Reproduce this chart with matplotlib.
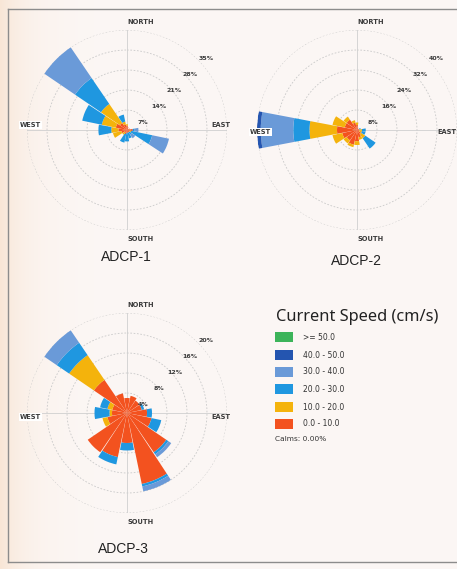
import numpy as np
import matplotlib.pyplot as plt
from matplotlib.patches import Rectangle
from matplotlib.lines import Line2D

# 16 compass sectors, clockwise from north
directions = [0, 22.5, 45, 67.5, 90, 112.5, 135, 157.5,
              180, 202.5, 225, 247.5, 270, 292.5, 315, 337.5]

speed_bins = ["0.0 - 10.0", "10.0 - 20.0", "20.0 - 30.0",
              "30.0 - 40.0", "40.0 - 50.0", ">= 50.0"]
bin_colors = ["#f3521f", "#f4b30c", "#1f97e0", "#6a9ad8", "#2455b0", "#3cb45a"]

# frequency (%) per sector for each speed class
adcp1_0_10 = [1.5, 1, 0.5, 1, 2, 1, 1, 1, 1, 1.5, 1, 2, 3, 4, 3, 2]
adcp1_10_20 = [0.5, 0, 0, 0, 0, 0.5, 0, 0, 0, 0, 1, 3, 2.5, 5, 8, 1]
adcp1_20_30 = [0, 0, 0, 0, 0.5, 7.5, 1, 2, 3, 3, 0, 0, 4.5, 7, 11, 2.5]
adcp1_30_40 = [0, 0, 0, 0, 1.5, 6, 1.5, 0, 0, 0, 0, 0, 0, 0, 14, 0]
adcp1_40_50 = [0] * 16
adcp1_50 = [0] * 16

adcp2_0_10 = [2, 1, 0.5, 1, 1, 1, 2, 3, 4.5, 6, 5, 6, 8, 5, 5, 3]
adcp2_10_20 = [1, 0, 0, 0, 1, 1, 2, 1, 1.5, 1, 1.5, 4, 11, 5, 1.5, 1]
adcp2_20_30 = [0, 0, 0, 0.5, 1.5, 1.5, 5, 0, 0, 0, 0, 0, 6.5, 0, 0, 0]
adcp2_30_40 = [0, 0, 0, 0, 0, 0, 0, 0, 0, 0, 0, 0, 13, 0, 0, 0]
adcp2_40_50 = [0, 0, 0, 0, 0, 0, 0, 0, 0, 0, 0, 0, 1.5, 0, 0, 0]
adcp2_50 = [0] * 16

adcp3_0_10 = [3, 3.5, 3, 3, 4, 5, 9.5, 14.5, 6, 9, 9.5, 4, 3, 3, 8, 4]
adcp3_10_20 = [0, 0, 0, 0, 0, 0, 0, 0, 0, 0, 0, 1, 0.5, 1, 6, 0]
adcp3_20_30 = [0, 0, 0, 0.5, 1, 2, 0.5, 0.5, 1.5, 1.5, 0, 0, 3, 1.5, 3, 0]
adcp3_30_40 = [0, 0, 0, 0, 0, 0, 0.7, 1, 0, 0, 0, 0, 0, 0, 4, 0]
adcp3_40_50 = [0] * 16
adcp3_50 = [0] * 16

adcp1_rings = [7, 14, 21, 28, 35]
adcp2_rings = [8, 16, 24, 32, 40]
adcp3_rings = [4, 8, 12, 16, 20]
calms = 0.00

W, H = 457, 569
R = 100  # outer ring radius in pixels

fig = plt.figure(figsize=(W / 100, H / 100), dpi=100)


def fx(px):
    return px / W


def fy(py):
    return 1 - py / H


# paper background, a little warmer on the left edge
bg = fig.add_axes([0, 0, 1, 1], zorder=-10)
xs = np.linspace(0, 1, W)
warm = np.exp(-xs / 0.06)[None, :, None]
paper = np.array([252, 247, 245]) / 255
peach = np.array([248, 230, 214]) / 255
img = paper + (peach - paper) * warm * np.ones((H, 1, 1))
bg.imshow(img, aspect="auto", extent=[0, 1, 0, 1])
bg.set_axis_off()

# page frame
frame = dict(color="#8c8c8c", lw=1.0)
fig.add_artist(Line2D([fx(8), fx(8)], [fy(9), fy(562)], **frame))
fig.add_artist(Line2D([fx(8), fx(457)], [fy(9), fy(9)], **frame))
fig.add_artist(Line2D([fx(8), fx(457)], [fy(562), fy(562)], **frame))


def rose(cx, cy, rings, bins, title, tx, ty, ew_dy, east_x=1.02):
    ax = fig.add_axes([fx(cx - R), fy(cy + R), 2 * R / W, 2 * R / H],
                      projection="polar")
    ax.set_theta_zero_location("N")
    ax.set_theta_direction(-1)
    rmax = rings[-1]
    ax.set_ylim(0, rmax)
    ax.set_axis_off()

    t = np.linspace(0, 2 * np.pi, 300)
    for r in rings:
        ax.plot(t, np.full_like(t, r), ls=(0, (2, 2)), color="#c9c9c9", lw=0.6)
    for a in [0, 0.5 * np.pi, np.pi, 1.5 * np.pi]:
        ax.plot([a, a], [0, rmax], color="#cfcfcf", lw=0.6)

    theta = np.deg2rad(directions)
    bottom = np.zeros(len(directions))
    for vals, col in zip(bins, bin_colors):
        vals = np.array(vals, dtype=float)
        ax.bar(theta, vals, width=np.deg2rad(21.5), bottom=bottom,
               color=col, linewidth=0, zorder=3)
        bottom += vals

    lab = dict(transform=ax.transAxes, fontsize=4.8, fontweight="bold",
               color="#3a3a3a", va="center", zorder=5)
    box = dict(facecolor="white", edgecolor="none", pad=0.6)
    ax.text(0.5, 1.04, "NORTH", ha="left", **lab)
    ax.text(0.5, -0.045, "SOUTH", ha="left", **lab)
    ax.text(-0.035, 0.5 + ew_dy, "WEST", ha="left", bbox=box, **lab)
    ax.text(east_x, 0.5 + ew_dy, "EAST", ha="right", **lab)

    for r in rings:
        rp = r / rmax * R
        ax.text(0.5 + 0.79 * rp / (2 * R), 0.5 + (0.8 * rp - 8) / (2 * R),
                f"{r}%", transform=ax.transAxes, fontsize=4.5,
                fontweight="bold", color="#3a3a3a", ha="center", va="center",
                zorder=5)

    fig.text(fx(tx), fy(ty), title, ha="center", va="center", fontsize=10,
             family="Liberation Sans", color="#222222")


rose(127, 130, adcp1_rings,
     [adcp1_0_10, adcp1_10_20, adcp1_20_30, adcp1_30_40, adcp1_40_50, adcp1_50],
     "ADCP-1", 126, 257, 0.025)
rose(357, 130, adcp2_rings,
     [adcp2_0_10, adcp2_10_20, adcp2_20_30, adcp2_30_40, adcp2_40_50, adcp2_50],
     "ADCP-2", 356, 261, -0.01, east_x=0.995)
rose(127, 413, adcp3_rings,
     [adcp3_0_10, adcp3_10_20, adcp3_20_30, adcp3_30_40, adcp3_40_50, adcp3_50],
     "ADCP-3", 123, 549, -0.02)

# legend
fig.text(fx(276), fy(317), "Current Speed (cm/s)", ha="left", va="center",
         fontsize=11.8, family="Noto Sans", color="#222222")
row_y = [337, 355, 372, 389, 407, 424]
for y, lbl, col in zip(row_y, speed_bins[::-1], bin_colors[::-1]):
    fig.add_artist(Rectangle((fx(275), fy(y + 5)), fx(18), 10 / H,
                             facecolor=col, edgecolor="none"))
    fig.text(fx(303), fy(y), lbl, ha="left", va="center", fontsize=5.5,
             color="#333333")
fig.text(fx(275), fy(439), f"Calms: {calms:.2f}%", ha="left", va="center",
         fontsize=5.3, color="#333333")

fig.savefig("out.png", dpi=100)
